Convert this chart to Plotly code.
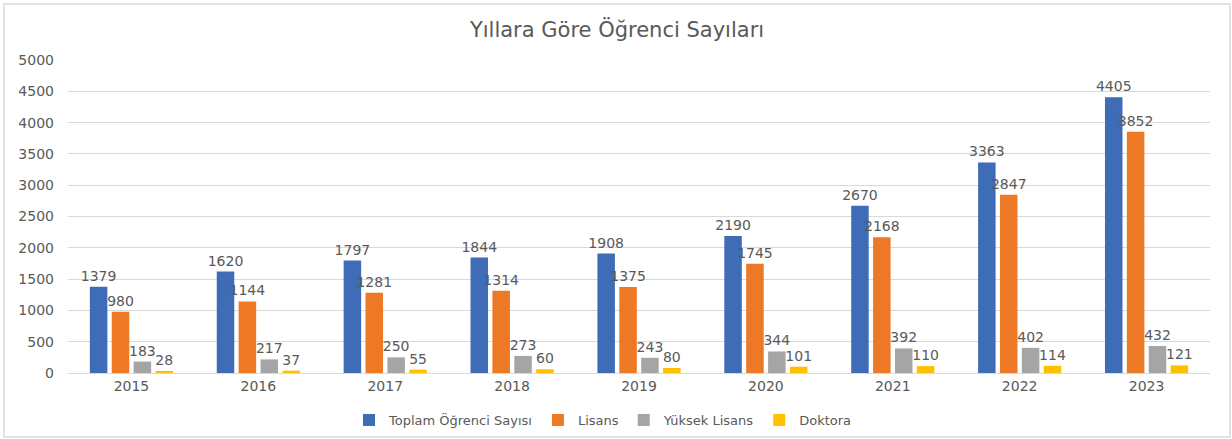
import plotly.graph_objects as go

years = ["2015", "2016", "2017", "2018", "2019", "2020", "2021", "2022", "2023"]
toplam = [1379, 1620, 1797, 1844, 1908, 2190, 2670, 3363, 4405]
lisans = [980, 1144, 1281, 1314, 1375, 1745, 2168, 2847, 3852]
yuksek = [183, 217, 250, 273, 243, 344, 392, 402, 432]
doktora = [28, 37, 55, 60, 80, 101, 110, 114, 121]

series_names = ["Toplam Öğrenci Sayısı", "Lisans", "Yüksek Lisans", "Doktora"]
series_vals = [toplam, lisans, yuksek, doktora]
colors = ["#3F6CB7", "#ED7825", "#A5A5A5", "#FFC000"]

FONT = "DejaVu Sans"
TXT = "#595959"

fig = go.Figure()
for name, vals, c in zip(series_names, series_vals, colors):
    fig.add_trace(go.Bar(
        x=years, y=vals, name=name, marker_color=c, marker_line_width=0,
        text=[str(v) for v in vals], textposition="outside",
        textfont=dict(family=FONT, size=14, color=TXT),
        cliponaxis=False,
    ))

W, H = 1232, 439
ml, mr, mt, mb = 68, 22, 60, 66
pw, ph = W - ml - mr, H - mt - mb

fig.update_layout(
    width=W, height=H,
    margin=dict(l=ml, r=mr, t=mt, b=mb, autoexpand=False),
    paper_bgcolor="white", plot_bgcolor="white",
    barmode="group", bargap=0.31, bargroupgap=0.2,
    title=dict(text="Yıllara Göre Öğrenci Sayıları", x=617 / W, xanchor="center",
               y=1 - 30 / H, yanchor="middle",
               font=dict(family=FONT, size=21, color=TXT)),
    font=dict(family=FONT, color=TXT),
    legend=dict(orientation="h", x=(603 - ml) / pw, xanchor="center",
                y=-(420 - (mt + ph)) / ph, yanchor="middle",
                font=dict(family=FONT, size=13, color=TXT),
                traceorder="normal"),
    uniformtext=dict(mode="show", minsize=14),
)
fig.update_xaxes(showgrid=False, showline=True, linecolor="#D9D9D9", linewidth=1,
                 tickfont=dict(family=FONT, size=14, color=TXT), ticks="",
                 automargin=False)
fig.update_yaxes(range=[0, 5000], dtick=500, showgrid=True, gridcolor="#D9D9D9",
                 gridwidth=1, zeroline=False, showline=False,
                 tickfont=dict(family=FONT, size=14, color=TXT), ticks="",
                 ticklabelstandoff=13, automargin=False)

# chart border
x0 = (4 - ml) / pw
x1 = (1230 - ml) / pw
y1 = 1 + (mt - 4) / ph
y0 = -(H - 2 - (mt + ph)) / ph
fig.add_shape(type="rect", xref="paper", yref="paper", x0=x0, x1=x1, y0=y0, y1=y1,
              line=dict(color="#D9D9D9", width=1.5), fillcolor="rgba(0,0,0,0)", layer="below")

fig.write_html("out.html", config={"displayModeBar": False},
               post_script="document.body.style.margin='0';document.body.style.padding='0';")
